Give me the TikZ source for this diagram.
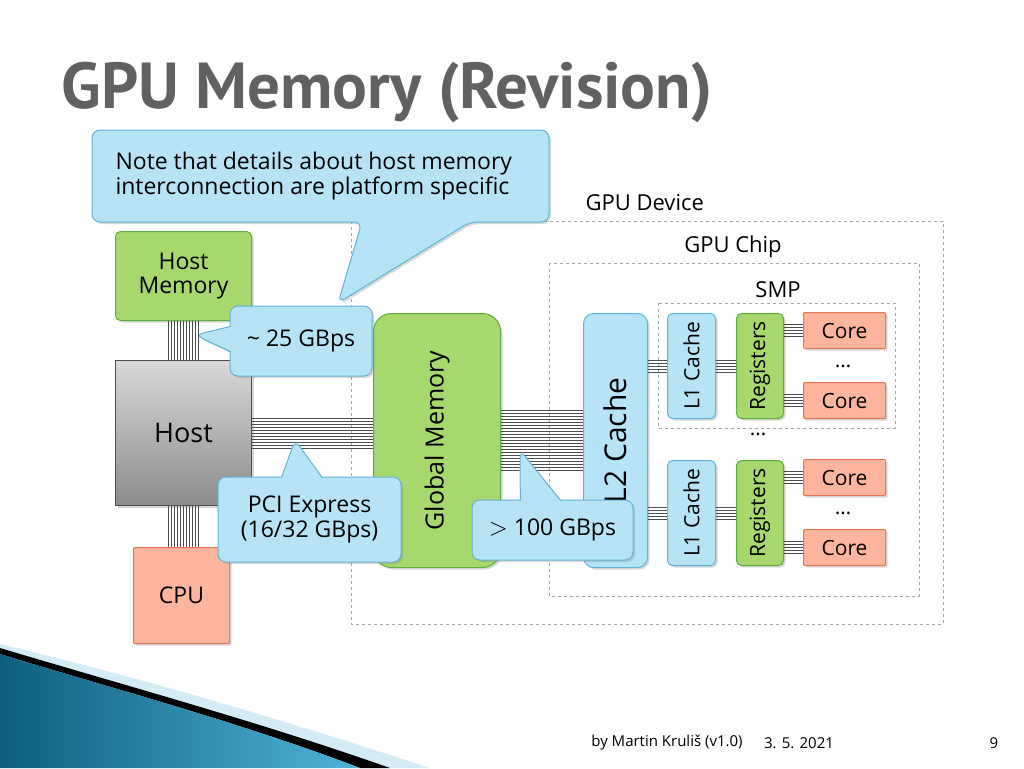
\documentclass[tikz,border=0pt]{standalone}
\usepackage{fontspec}
\setmainfont{Open Sans}
\newfontfamily\titlefont{PT Sans}
\usetikzlibrary{shapes.callouts,shadows,calc}
\definecolor{gfill}{HTML}{A6D86E}
\definecolor{gline}{HTML}{5DAE3A}
\definecolor{bfill}{HTML}{B7E3F7}
\definecolor{bline}{HTML}{62B3D6}
\definecolor{rfill}{HTML}{FDB59E}
\definecolor{rline}{HTML}{E57454}
\definecolor{sw1}{HTML}{0E5F7E}
\definecolor{sw2}{HTML}{4FB3D6}
\newcommand{\fs}[1]{\fontsize{#1}{\dimexpr #1pt*12/10\relax}\selectfont}
\begin{document}
\begin{tikzpicture}[x=1pt,y=-1pt,
  box/.style={draw,line width=1pt,rounded corners=5pt,inner sep=0pt,anchor=north west,align=center,drop shadow={opacity=0.3,shadow xshift=2pt,shadow yshift=-2pt}},
  green/.style={box,fill=gfill,draw=gline},
  blue/.style={box,fill=bfill,draw=bline},
  red/.style={box,fill=rfill,draw=rline,rounded corners=1pt},
  call/.style={rectangle callout,draw=bline,line width=1pt,fill=bfill,rounded corners=8pt,align=center,font=\fs{23},inner sep=0pt,callout pointer width=40pt,drop shadow={opacity=0.3,shadow xshift=2pt,shadow yshift=-2pt}},
  frame/.style={draw=gray!70,dashed,line width=0.8pt},
  bus/.style={draw=black!70,line width=0.6pt},
  lbl/.style={font=\fs{22}}]
\useasboundingbox (0,0) rectangle (1024,768);
% swoosh
\fill[sw2!25] (0,644) .. controls (150,680) and (300,725) .. (430,768) -- (390,768) .. controls (260,722) and (120,684) .. (0,648) -- cycle;
\fill[black] (0,648) .. controls (120,684) and (260,722) .. (390,768) -- (360,768) .. controls (240,722) and (100,685) .. (0,654) -- cycle;
\shade[left color=sw1,right color=sw2] (0,654) .. controls (100,685) and (240,722) .. (360,768) -- (0,768) -- cycle;
% title
\node[anchor=west,font=\titlefont\bfseries\fs{65},text=black!62] (title) at (58,92) {GPU Memory (Revision)};
% frames
\draw[frame] (351,221) rectangle (943,624);
\node[lbl,anchor=west] (dev) at (582,203) {GPU Device};
\draw[frame] (549,263) rectangle (919,596);
\node[lbl] (chip) at (733,247) {GPU Chip};
\draw[frame] (658,303) rectangle (895,428);
\node[lbl] (smp) at (778,290) {SMP};
% nodes
\node[green,minimum width=136pt,minimum height=89pt,font=\fs{23}] (hm) at (115,231) {Host\\[-4pt]Memory};
\node[box,draw=black!70,rounded corners=0pt,top color=white!85!black,bottom color=black!45,minimum width=136pt,minimum height=145pt,font=\fs{27}] (host) at (115,360) {Host};
\node[red,minimum width=96pt,minimum height=96pt,font=\fs{23}] (cpu) at (133,547) {CPU};
\node[green,rounded corners=18pt,minimum width=127pt,minimum height=254pt] (gm) at (373,313) {};
\node[rotate=90,font=\fs{25}] at (gm.center) {Global Memory};
\node[blue,rounded corners=10pt,minimum width=64pt,minimum height=254pt] (l2) at (583,313) {};
\node[rotate=90,font=\fs{30}] at (l2.center) {L2 Cache};
\foreach \n/\y in {a/313,b/460}{
  \node[blue,minimum width=48pt,minimum height=105pt] (l1\n) at (667,\y) {};
  \node[rotate=90,font=\fs{21}] at (l1\n.center) {L1 Cache};
  \node[green,minimum width=47pt,minimum height=105pt] (rg\n) at (736,\y) {};
  \node[rotate=90,font=\fs{21}] at (rg\n.center) {Registers};
}
\node[red,minimum width=82pt,minimum height=36pt,font=\fs{21}] (c1) at (803,312) {Core};
\node[red,minimum width=82pt,minimum height=36pt,font=\fs{21}] (c2) at (803,382) {Core};
\node[red,minimum width=82pt,minimum height=36pt,font=\fs{21}] (c3) at (803,459) {Core};
\node[red,minimum width=82pt,minimum height=36pt,font=\fs{21}] (c4) at (803,529) {Core};
\node[font=\fs{21}] (d1) at (843,366) {\dots};
\node[font=\fs{21}] (d2) at (843,513) {\dots};
\node[font=\fs{21}] (d3) at (758,434) {\dots};
% buses
\foreach \i in {-15,-12,...,15}{
  \draw[bus] ([xshift=\i pt]hm.south) -- ([xshift=\i pt]hm.south |- host.north);
  \draw[bus] ([xshift=\i pt]host.south) -- ([xshift=\i pt]host.south |- cpu.north);
  \draw[bus] ([yshift=\i pt]host.east) -- ([yshift=\i pt]host.east -| gm.west);
}
\foreach \i in {-30,-27,...,30}
  \draw[bus] ([yshift=\i pt]gm.east) -- ([yshift=\i pt]gm.east -| l2.west);
\foreach \i in {-6,-3,...,6}{
  \draw[bus] ([yshift=\i pt]l2.east |- l1a.east) -- ([yshift=\i pt]l1a.east -| l1a.west);
  \draw[bus] ([yshift=\i pt]l2.east |- l1b.east) -- ([yshift=\i pt]l1b.east -| l1b.west);
  \draw[bus] ([yshift=\i pt]l1a.east) -- ([yshift=\i pt]rga.west);
  \draw[bus] ([yshift=\i pt]l1b.east) -- ([yshift=\i pt]rgb.west);
  \draw[bus] ([yshift=\i pt]c1.west -| rga.east) -- ([yshift=\i pt]c1.west);
  \draw[bus] ([yshift=\i pt]c2.west -| rga.east) -- ([yshift=\i pt]c2.west);
  \draw[bus] ([yshift=\i pt]c3.west -| rgb.east) -- ([yshift=\i pt]c3.west);
  \draw[bus] ([yshift=\i pt]c4.west -| rgb.east) -- ([yshift=\i pt]c4.west);
}
% callouts
\coordinate (t0) at (338,303);
\coordinate (t1) at (195,335);
\coordinate (t2) at (295,440);
\coordinate (t3) at (520,450);
\path[draw=bline,line width=1pt,fill=bfill,rounded corners=8pt,drop shadow={opacity=0.3,shadow xshift=2pt,shadow yshift=-2pt}]
  (92,130) -- (549,130) -- (549,222) -- (470,222) -- (t0) -- (362,222) -- (92,222) -- cycle;
\node[font=\fs{23},align=left,anchor=west] (note) at (112,176) {Note that details about host memory\\[-2pt]interconnection are platform specific};
\node[call,minimum width=142pt,minimum height=70pt,callout absolute pointer={(t1)},callout pointer width=25pt] (c25) at (301,341) {\textasciitilde{} 25 GBps};
\node[call,minimum width=183pt,minimum height=85pt,callout absolute pointer={(t2)}] (pci) at (309.5,519.5) {PCI Express\\[-2pt](16/32 GBps)};
\node[call,minimum width=161pt,minimum height=60pt,callout absolute pointer={(t3)}] (c100) at (552.5,530) {$>$ 100 GBps};
% footer
\node[font=\fs{15}] (f1) at (667,743) {by Martin Kruliš (v1.0)};
\node[font=\fs{15}] (f2) at (799,743) {3. 5. 2021};
\node[font=\fs{15}] (f3) at (994,743) {9};
\end{tikzpicture}
\end{document}
